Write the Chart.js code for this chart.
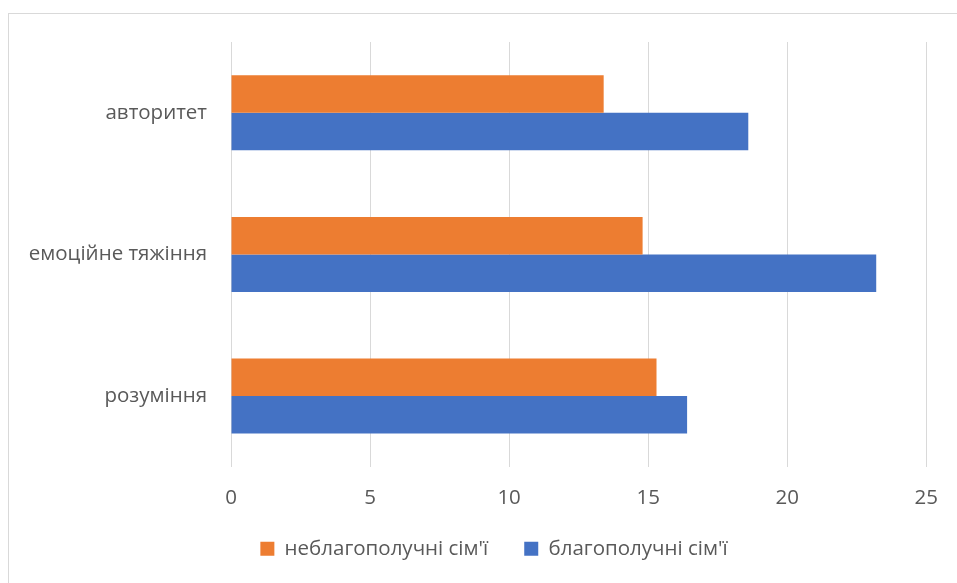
<!DOCTYPE html>
<html>
<head>
<meta charset="utf-8">
<script src="https://cdn.jsdelivr.net/npm/chart.js@4.4.1/dist/chart.umd.min.js"></script>
<style>
    html, body { margin: 0; padding: 0; background: #fff; overflow: hidden; }
    #wrap { position: relative; width: 957px; height: 583px; }
    #frame { position: absolute; left: 8px; top: 13px; width: 980px; height: 600px; border: 1px solid #d9d9d9; box-sizing: border-box; }
    #chartBox { position: absolute; left: 0; top: 0; width: 957px; height: 583px; }
</style>
</head>
<body>
<div id="wrap">
    <div id="frame"></div>
    <div id="chartBox"><canvas id="barChart"></canvas></div>
</div>
<script>
var categories = ['авторитет', 'емоційне тяжіння', 'розуміння'];
var seriesNames = ['неблагополучні сім\'ї', 'благополучні сім\'ї'];
var troubledValues = [13.4, 14.8, 15.3];   // неблагополучні сім'ї
var wellValues = [18.6, 23.2, 16.4];       // благополучні сім'ї
var xTicks = [0, 5, 10, 15, 20, 25];

var textColor = '#595959';
var fontFamily = "'Open Sans', 'Noto Sans', sans-serif";
var fontSize = 20.5;

// nudge the legend so it sits where the original one does
var legendNudge = {
    id: 'legendNudge',
    afterLayout: (chart) => {
        const lg = chart.legend;
        if (!lg) return;
        lg.left += 17;
        lg.right += 17;
        lg.top -= 27;
        lg.bottom -= 27;
    }
};

var ctx = document.getElementById('barChart');

var chart = new Chart(ctx, {
    type: 'bar',
    data: {
        labels: categories,
        datasets: [
            {
                label: seriesNames[0],
                data: troubledValues,
                backgroundColor: '#ED7D31',
                borderWidth: 0,
                barPercentage: 1.0,
                categoryPercentage: 0.53
            },
            {
                label: seriesNames[1],
                data: wellValues,
                backgroundColor: '#4472C4',
                borderWidth: 0,
                barPercentage: 1.0,
                categoryPercentage: 0.53
            }
        ]
    },
    options: {
        indexAxis: 'y',
        responsive: true,
        maintainAspectRatio: false,
        animation: false,
        layout: {
            padding: { top: 42, right: 30, bottom: -13, left: 27 }
        },
        scales: {
            x: {
                min: 0,
                max: 25,
                afterBuildTicks: (scale) => {
                    scale.ticks = xTicks.map(v => ({ value: v }));
                },
                grid: {
                    color: '#d9d9d9',
                    lineWidth: 1,
                    drawTicks: false
                },
                border: { display: false },
                ticks: {
                    color: textColor,
                    padding: 19,
                    font: { family: fontFamily, size: fontSize }
                }
            },
            y: {
                grid: { display: false, drawTicks: false },
                border: { display: false },
                afterFit: (scale) => { scale.width = 204; },
                ticks: {
                    color: textColor,
                    padding: 24,
                    font: { family: fontFamily, size: fontSize }
                }
            }
        },
        plugins: {
            legend: {
                display: true,
                position: 'bottom',
                labels: {
                    color: textColor,
                    boxWidth: 14,
                    boxHeight: 14,
                    padding: 36,
                    font: { family: fontFamily, size: fontSize }
                }
            },
            tooltip: { enabled: false }
        }
    },
    plugins: [legendNudge]
});
</script>
</body>
</html>
